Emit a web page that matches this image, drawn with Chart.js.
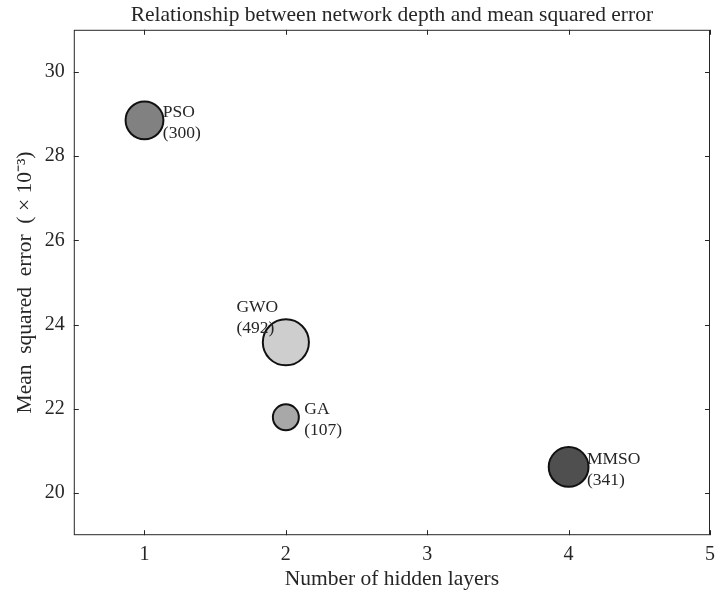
<!DOCTYPE html>
<html>
<head>
<meta charset="utf-8">
<script src="https://cdn.jsdelivr.net/npm/chart.js@4.4.1/dist/chart.umd.min.js"></script>
<style>
  html, body { margin: 0; padding: 0; background: #fff; }
</style>
</head>
<body>
<canvas id="viz" width="715" height="594"></canvas>
<script>
var algorithms = ['PSO', 'GWO', 'GA', 'MMSO'];
var hiddenLayers = [1, 2, 2, 4];
var mseValues = [28.85, 23.58, 21.8, 20.62];
var bubbleValues = [300, 492, 107, 341];
var xTicks = [1, 2, 3, 4, 5];
var yTicks = [20, 22, 24, 26, 28, 30];

var fills = ['#818181', '#cecece', '#a8a8a8', '#4f4f4f'];
var serif = '"Liberation Serif", "Times New Roman", serif';
var ink = '#262626';

function radiusFor(v) {
  return 0.85 * Math.sqrt(v) + 4.2;
}

var points = algorithms.map(function (name, i) {
  return { x: hiddenLayers[i], y: mseValues[i], r: radiusFor(bubbleValues[i]) };
});

function keepTicks(list) {
  return function (scale) {
    scale.ticks = list.map(function (v) { return { value: v }; });
  };
}

// box around the plot with inward tick marks on all four sides
var framePlugin = {
  id: 'frame',
  afterDraw: function (chart) {
    var ctx = chart.ctx;
    var a = chart.chartArea;
    var xs = chart.scales.x, ys = chart.scales.y;
    var len = 5;
    ctx.save();
    ctx.strokeStyle = ink;
    ctx.lineWidth = 1;
    ctx.strokeRect(a.left + 0.5, a.top + 0.5, a.right - a.left - 1, a.bottom - a.top - 1);
    ctx.beginPath();
    xTicks.forEach(function (v) {
      var px = Math.round(xs.getPixelForValue(v)) + 0.5;
      ctx.moveTo(px, a.bottom); ctx.lineTo(px, a.bottom - len);
      ctx.moveTo(px, a.top); ctx.lineTo(px, a.top + len);
    });
    yTicks.forEach(function (v) {
      var py = Math.round(ys.getPixelForValue(v)) + 0.5;
      ctx.moveTo(a.left, py); ctx.lineTo(a.left + len, py);
      ctx.moveTo(a.right, py); ctx.lineTo(a.right - len, py);
    });
    ctx.stroke();
    ctx.restore();
  }
};

// name and population size written beside each bubble
var labelPlugin = {
  id: 'bubbleLabels',
  afterDatasetsDraw: function (chart) {
    var ctx = chart.ctx;
    var xs = chart.scales.x, ys = chart.scales.y;
    ctx.save();
    ctx.font = '17.5px ' + serif;
    ctx.fillStyle = ink;
    ctx.textBaseline = 'middle';
    ctx.textAlign = 'left';
    algorithms.forEach(function (name, i) {
      var px, py;
      if (name === 'GWO') {
        px = xs.getPixelForValue(hiddenLayers[i] - 0.35);
        py = ys.getPixelForValue(mseValues[i] + 0.6);
      } else {
        px = xs.getPixelForValue(hiddenLayers[i] + 0.13);
        py = ys.getPixelForValue(mseValues[i] - 0.05);
      }
      ctx.fillText(name, px, py - 10);
      ctx.fillText('(' + bubbleValues[i] + ')', px, py + 11);
    });
    ctx.restore();
  }
};

var chart = new Chart(document.getElementById('viz').getContext('2d'), {
  type: 'bubble',
  data: {
    datasets: [{
      label: 'MSE',
      data: points,
      backgroundColor: fills,
      borderColor: '#111',
      borderWidth: 2,
    }],
  },
  options: {
    responsive: false,
    animation: false,
    events: [],
    layout: { autoPadding: false, padding: { left: 12, right: 5, top: 0, bottom: 2 } },
    plugins: {
      legend: { display: false },
      tooltip: { enabled: false },
      title: {
        display: true,
        fullSize: false,
        text: 'Relationship between network depth and mean squared error',
        color: ink,
        font: { family: serif, size: 21.5, weight: 'normal' },
        padding: { top: 2, bottom: 2 },
      },
    },
    scales: {
      x: {
        type: 'linear',
        min: 0.5,
        max: 5,
        afterBuildTicks: keepTicks(xTicks),
        afterFit: function (scale) { scale.paddingRight = 0; },
        grid: { display: false, drawTicks: false, tickLength: 0 },
        border: { display: false },
        ticks: { color: ink, padding: 8, font: { family: serif, size: 20 } },
        title: {
          display: true,
          text: 'Number of hidden layers',
          color: ink,
          font: { family: serif, size: 21.5 },
          padding: { top: -9, bottom: 0 },
        },
      },
      y: {
        type: 'linear',
        min: 19,
        max: 31,
        afterBuildTicks: keepTicks(yTicks),
        grid: { display: false, drawTicks: false, tickLength: 0 },
        border: { display: false },
        ticks: { color: ink, padding: 9, font: { family: serif, size: 20 } },
        title: {
          display: true,
          text: 'Mean  squared  error  ( × 10\u207B\u00B3)',
          color: ink,
          font: { family: serif, size: 21.5 },
          padding: { top: 0, bottom: -2 },
        },
      },
    },
  },
  plugins: [framePlugin, labelPlugin],
});
</script>
</body>
</html>
